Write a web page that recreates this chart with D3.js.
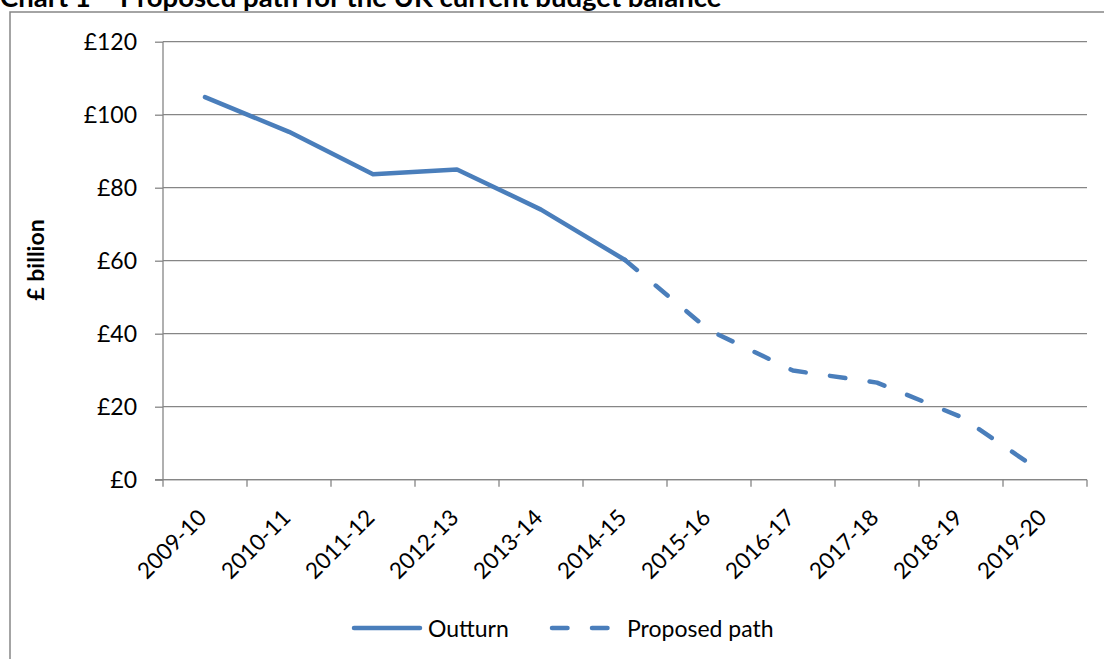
<!DOCTYPE html>
<html>
<head>
<meta charset="utf-8">
<script src="https://cdn.jsdelivr.net/npm/d3@7"></script>
<style>
  body { margin: 0; background: #fff; }
  svg { display: block; font-family: Lato, "Noto Sans", sans-serif; }
</style>
</head>
<body>
<svg id="chart" width="1104" height="659"></svg>
<script>
// values (£ billion)
const years = ["2009-10", "2010-11", "2011-12", "2012-13", "2013-14", "2014-15",
               "2015-16", "2016-17", "2017-18", "2018-19", "2019-20"];
const outturn = [104.8, 95.3, 83.7, 85.0, 74.0, 60.2, null, null, null, null, null];
const proposed = [null, null, null, null, null, 60.2, 41.0, 29.9, 26.6, 17.2, 1.5];
const yTicks = [0, 20, 40, 60, 80, 100, 120];

const blue = "#4a7ebb";
const grey = "#868686";

const svg = d3.select("#chart");
const margin = { left: 163, right: 1087, top: 41.7, bottom: 479.7 };

const x = d3.scaleBand().domain(years).range([margin.left, margin.right]);
const y = d3.scaleLinear().domain([0, 120]).range([margin.bottom, margin.top]);

// outer chart frame (only partly in view)
svg.append("rect")
  .attr("x", 10).attr("y", 12)
  .attr("width", 1110).attr("height", 700)
  .attr("fill", "none").attr("stroke", grey).attr("stroke-width", 1.5);

// title, cut by the top of the picture as in the source
svg.append("text")
  .attr("x", 0).attr("y", 7)
  .attr("font-weight", "bold").attr("font-size", 27.5)
  .text("Chart 1 \u2013 Proposed path for the UK current budget balance");

// gridlines
svg.append("g")
  .selectAll("line")
  .data(yTicks)
  .join("line")
    .attr("x1", margin.left).attr("x2", margin.right)
    .attr("y1", d => y(d)).attr("y2", d => y(d))
    .attr("stroke", grey).attr("stroke-width", 1.3);

// y axis
const yAxis = svg.append("g")
  .attr("transform", `translate(${margin.left},0)`)
  .call(d3.axisLeft(y).tickValues(yTicks).tickSize(8).tickPadding(18)
    .tickFormat(d => "£" + d));
yAxis.selectAll("line, path").attr("stroke", grey).attr("stroke-width", 1.3);
yAxis.select(".domain").attr("d", `M0,${margin.top}V${margin.bottom}`);
yAxis.selectAll("text")
  .attr("font-size", 23).attr("font-family", "Lato").attr("fill", "#000")
  .attr("dy", "0.36em");

// x axis, ticks on category boundaries
const xAxis = svg.append("g")
  .attr("transform", `translate(0,${margin.bottom})`);
xAxis.append("line")
  .attr("x1", margin.left - 8).attr("x2", margin.right)
  .attr("stroke", grey).attr("stroke-width", 1.3);
xAxis.selectAll("line.tick")
  .data(years.concat(["end"]))
  .join("line")
    .attr("class", "tick")
    .attr("x1", (d, i) => i < years.length ? x(d) : margin.right)
    .attr("x2", (d, i) => i < years.length ? x(d) : margin.right)
    .attr("y1", 0).attr("y2", 7)
    .attr("stroke", grey).attr("stroke-width", 1.3);

svg.append("g")
  .selectAll("text")
  .data(years)
  .join("text")
    .attr("transform", d => `translate(${x(d) + x.bandwidth() / 2 + 3},519) rotate(-45)`)
    .attr("text-anchor", "end")
    .attr("font-size", 22.5)
    .text(d => d);

// y axis title
svg.append("text")
  .attr("transform", "translate(44,260) rotate(-90)")
  .attr("text-anchor", "middle")
  .attr("font-weight", "bold").attr("font-size", 23)
  .text("£ billion");

// lines
const line = d3.line()
  .defined(d => d.v != null)
  .x(d => x(d.year) + x.bandwidth() / 2)
  .y(d => y(d.v));

svg.append("path")
  .datum(years.map((yr, i) => ({ year: yr, v: outturn[i] })))
  .attr("d", line)
  .attr("fill", "none").attr("stroke", blue).attr("stroke-width", 4.5)
  .attr("stroke-linejoin", "round").attr("stroke-linecap", "round");

svg.append("path")
  .datum(years.map((yr, i) => ({ year: yr, v: proposed[i] })))
  .attr("d", line)
  .attr("fill", "none").attr("stroke", blue).attr("stroke-width", 4.5)
  .attr("stroke-dasharray", "15.5,24.5")
  .attr("stroke-linejoin", "round").attr("stroke-linecap", "round");

// legend
const legend = svg.append("g");
legend.append("line")
  .attr("x1", 354).attr("x2", 420).attr("y1", 628).attr("y2", 628)
  .attr("stroke", blue).attr("stroke-width", 4.5).attr("stroke-linecap", "round");
legend.append("text")
  .attr("x", 428).attr("y", 637).attr("font-size", 23)
  .text("Outturn");
legend.append("line")
  .attr("x1", 552).attr("x2", 610).attr("y1", 628).attr("y2", 628)
  .attr("stroke", blue).attr("stroke-width", 4.5).attr("stroke-linecap", "round")
  .attr("stroke-dasharray", "15.5,24.5");
legend.append("text")
  .attr("x", 627).attr("y", 637).attr("font-size", 23)
  .text("Proposed path");
</script>
</body>
</html>
